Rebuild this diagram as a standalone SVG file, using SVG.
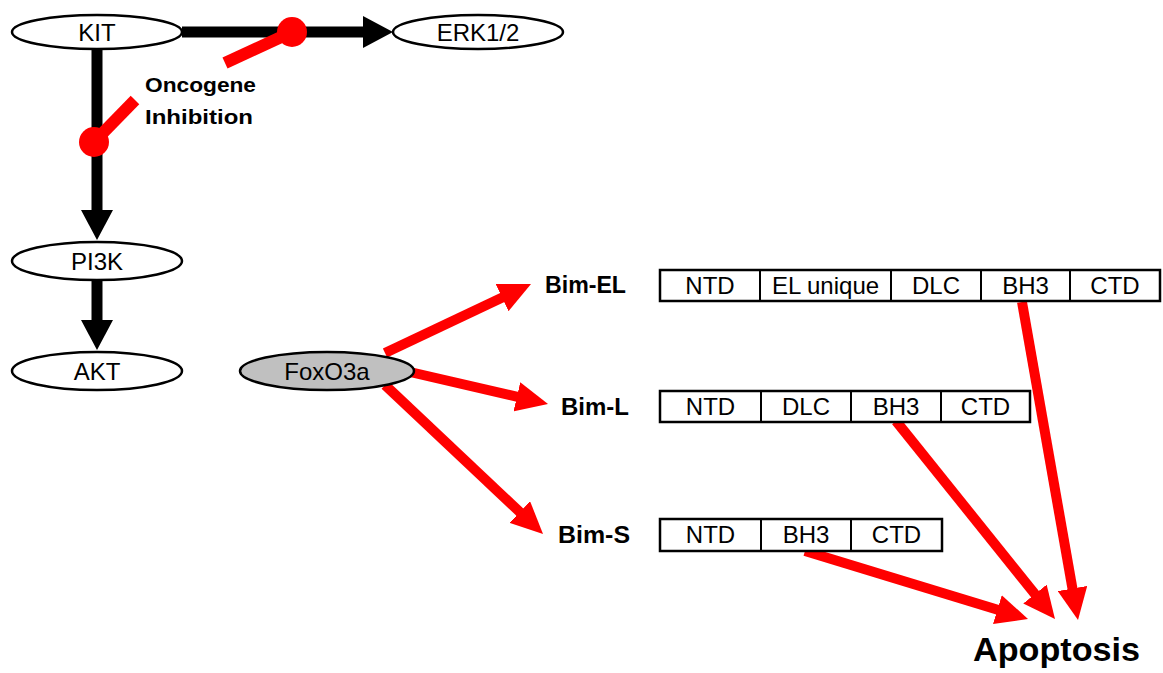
<svg xmlns="http://www.w3.org/2000/svg" width="1163" height="673" viewBox="0 0 1163 673">
<style>
.node ellipse{fill:#fff;stroke:#000;stroke-width:2.5}
.node text,.seg text{font-family:"Liberation Sans",Arial,sans-serif;font-size:24px;text-anchor:middle;fill:#000}
.seg rect{fill:#fff;stroke:#000;stroke-width:2.5}
.seg line{stroke:#000;stroke-width:2}
.seg text.lbl,.lbl{font-family:"Liberation Sans",Arial,sans-serif;font-weight:bold;font-size:23px;text-anchor:start;fill:#000}
.blk{stroke:#000;stroke-width:11;fill:none}
.red{stroke:#f00;stroke-width:10;fill:none}
</style>
<defs>
<marker id="bh" viewBox="0 0 30 32" refX="2" refY="16" markerWidth="30" markerHeight="32" markerUnits="userSpaceOnUse" orient="auto"><path d="M0,0 L30,16 L0,32 Z" fill="#000"/></marker>
<marker id="rh" viewBox="0 0 32 30" refX="2" refY="15" markerWidth="32" markerHeight="30" markerUnits="userSpaceOnUse" orient="auto"><path d="M0,0 L32,15 L0,30 Z" fill="#f00"/></marker>
</defs>
<g id="connectors">
<line class="blk" x1="182" y1="32" x2="365" y2="32" marker-end="url(#bh)"/>
<line class="blk" x1="97" y1="48" x2="97" y2="212" marker-end="url(#bh)"/>
<line class="blk" x1="97" y1="280" x2="97" y2="322" marker-end="url(#bh)"/>
<line class="red" x1="292" y1="32" x2="225" y2="63" style="stroke-width:12"/>
<circle cx="292" cy="32" r="15" fill="#f00"/>
<line class="red" x1="94" y1="142" x2="135" y2="100" style="stroke-width:12"/>
<circle cx="94" cy="142" r="15" fill="#f00"/>
<line class="red" x1="385" y1="353" x2="503.9" y2="296.8" marker-end="url(#rh)"/>
<line class="red" x1="410" y1="372" x2="518.8" y2="397.2" marker-end="url(#rh)"/>
<line class="red" x1="385" y1="385" x2="521.2" y2="513.4" marker-end="url(#rh)"/>
<line class="red" x1="1022" y1="302" x2="1072.8" y2="590.5" marker-end="url(#rh)"/>
<line class="red" x1="896" y1="421" x2="1036.2" y2="595.6" marker-end="url(#rh)"/>
<line class="red" x1="805" y1="551" x2="999.3" y2="610.2" marker-end="url(#rh)"/>
</g>
<g id="KIT" class="node"><ellipse cx="97" cy="32" rx="85" ry="17"/><text x="97" y="40.5">KIT</text></g>
<g id="ERK" class="node"><ellipse cx="478" cy="32" rx="85" ry="17"/><text x="478" y="40.5">ERK1/2</text></g>
<g id="PI3K" class="node"><ellipse cx="97" cy="261" rx="85" ry="19"/><text x="97" y="269.5">PI3K</text></g>
<g id="AKT" class="node"><ellipse cx="97" cy="371" rx="85" ry="19"/><text x="97" y="379.5">AKT</text></g>
<g id="FoxO3a" class="node"><ellipse cx="327" cy="371" rx="87" ry="19" style="fill:#c0c0c0"/><text x="327" y="379.5">FoxO3a</text></g>
<g id="oncogene-inhibition"><text class="lbl" x="145" y="92" style="font-size:21px" textLength="111" lengthAdjust="spacingAndGlyphs">Oncogene</text><text class="lbl" x="145" y="124" style="font-size:21px" textLength="108" lengthAdjust="spacingAndGlyphs">Inhibition</text></g>
<g id="BimEL" class="seg">
<text class="lbl" x="545" y="293" textLength="81" lengthAdjust="spacingAndGlyphs">Bim-EL</text>
<rect x="660" y="270" width="500" height="31"/>
<line x1="760" y1="270" x2="760" y2="301"/><line x1="891" y1="270" x2="891" y2="301"/><line x1="981" y1="270" x2="981" y2="301"/><line x1="1070" y1="270" x2="1070" y2="301"/>
<text x="710" y="294">NTD</text><text x="825.5" y="294">EL unique</text><text x="936" y="294">DLC</text><text x="1025.5" y="294">BH3</text><text x="1115" y="294">CTD</text>
</g>
<g id="BimL" class="seg">
<text class="lbl" x="561" y="415" textLength="68" lengthAdjust="spacingAndGlyphs">Bim-L</text>
<rect x="660" y="391" width="370" height="31"/>
<line x1="761" y1="391" x2="761" y2="422"/><line x1="851" y1="391" x2="851" y2="422"/><line x1="941" y1="391" x2="941" y2="422"/>
<text x="710.5" y="415">NTD</text><text x="806" y="415">DLC</text><text x="896" y="415">BH3</text><text x="985.5" y="415">CTD</text>
</g>
<g id="BimS" class="seg">
<text class="lbl" x="558" y="543" textLength="72" lengthAdjust="spacingAndGlyphs">Bim-S</text>
<rect x="660" y="519" width="282" height="32"/>
<line x1="761" y1="519" x2="761" y2="551"/><line x1="851" y1="519" x2="851" y2="551"/>
<text x="710.5" y="543">NTD</text><text x="806" y="543">BH3</text><text x="896.5" y="543">CTD</text>
</g>
<g id="Apoptosis"><text class="lbl" x="973" y="661" style="font-size:33px" textLength="167" lengthAdjust="spacingAndGlyphs">Apoptosis</text></g>
</svg>
